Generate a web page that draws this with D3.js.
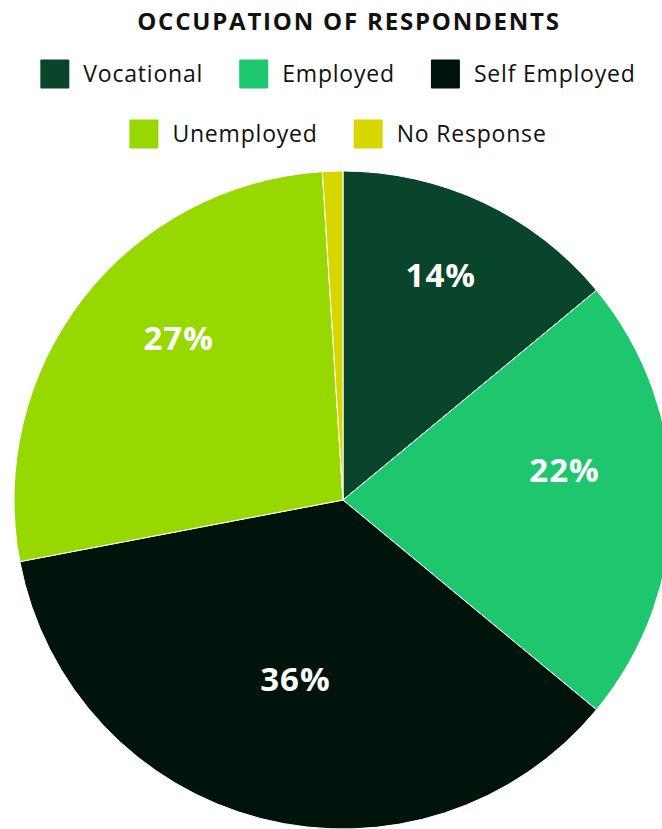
<!DOCTYPE html>
<html>
<head>
<meta charset="utf-8">
<script src="https://cdn.jsdelivr.net/npm/d3@7"></script>
<style>
  html, body { margin: 0; padding: 0; background: #ffffff; }
  svg { display: block; font-family: "Open Sans", "Noto Sans", sans-serif; }
</style>
</head>
<body>
<svg id="chart" width="662" height="829"></svg>
<script>
// Occupation of respondents (percent of all respondents)
const categories = ["Vocational", "Employed", "Self Employed", "Unemployed", "No Response"];
const shares = [14, 22, 36, 27, 1];
const colors = ["#08452a", "#1ec66d", "#00140b", "#96d800", "#d6d600"];
const chartTitle = "OCCUPATION OF RESPONDENTS";

const width = 662, height = 829;
const svg = d3.select("#chart");

const color = d3.scaleOrdinal().domain(categories).range(colors);

// Title (letter-spacing widens the face to a rounded-sans feel)
svg.append("text")
  .attr("x", 349)
  .attr("y", 30)
  .attr("text-anchor", "middle")
  .attr("font-size", 24)
  .attr("font-weight", 700)
  .attr("letter-spacing", 1.8)
  .attr("fill", "#111")
  .text(chartTitle);

// Legend in two centred rows
const legendRows = [categories.slice(0, 3), categories.slice(3)];
const sw = 29, gapText = 14, gapItem = 36, legendCx = 338;
const legend = svg.append("g");
legendRows.forEach((row, ri) => {
  const cy = 74 + ri * 60;
  const g = legend.append("g");
  const items = row.map(name => {
    const it = g.append("g");
    it.append("rect").attr("width", sw).attr("height", sw).attr("y", cy - sw / 2)
      .attr("rx", 1).attr("fill", color(name));
    const t = it.append("text").attr("x", sw + gapText).attr("y", cy)
      .attr("dy", "0.36em").attr("font-size", 23).attr("letter-spacing", 0.8)
      .attr("fill", "#111").text(name);
    return { it, w: sw + gapText + t.node().getComputedTextLength() };
  });
  const total = d3.sum(items, d => d.w) + gapItem * (items.length - 1);
  let x = legendCx - total / 2;
  items.forEach(d => { d.it.attr("transform", `translate(${x},0)`); x += d.w + gapItem; });
});

// Pie
const cx = 343, cy = 500, R = 329;
const pie = d3.pie().sort(null).value(d => d.value);
const arcs = pie(categories.map((c, i) => ({ name: c, value: shares[i] })));
const arc = d3.arc().innerRadius(0).outerRadius(R);
const labelArc = d3.arc().innerRadius(R * 0.655).outerRadius(R * 0.655);

const pg = svg.append("g").attr("transform", `translate(${cx},${cy})`);
pg.selectAll("path.slice")
  .data(arcs)
  .join("path")
  .attr("class", "slice")
  .attr("d", arc)
  .attr("fill", d => color(d.data.name))
  .attr("stroke", "#ffffff")
  .attr("stroke-width", 1);

pg.selectAll("text.pct")
  .data(arcs.filter(d => d.data.value >= 5))
  .join("text")
  .attr("class", "pct")
  .attr("transform", d => {
    const [x, y] = labelArc.centroid(d);
    return `translate(${x + 6},${y - 30})`;
  })
  .attr("text-anchor", "middle")
  .attr("dy", "0.36em")
  .attr("font-size", 33)
  .attr("font-weight", 700)
  .attr("letter-spacing", 1)
  .attr("fill", "#ffffff")
  .text(d => d.data.value + "%");
</script>
</body>
</html>
